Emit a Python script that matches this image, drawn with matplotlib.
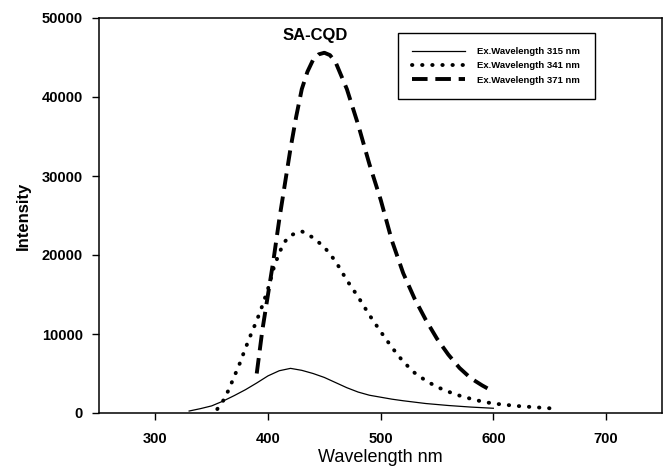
import numpy as np
import matplotlib.pyplot as plt

plt.rcParams['font.family'] = ['Liberation Sans', 'DejaVu Sans']

# Ex. 315 nm
wl_315 = [330, 340, 350, 360, 370, 380, 390, 400, 410, 420, 430, 440, 450, 460,
          470, 480, 490, 500, 510, 520, 540, 560, 580, 600]
int_315 = [250, 550, 900, 1500, 2200, 2950, 3800, 4700, 5350, 5650, 5400, 5000,
           4500, 3850, 3200, 2650, 2250, 2000, 1750, 1550, 1200, 950, 750, 600]

# Ex. 341 nm
wl_341 = [355, 360, 365, 370, 375, 380, 385, 390, 395, 400, 405, 410, 415, 420,
          430, 440, 450, 460, 470, 480, 490, 500, 510, 520, 530, 540, 550, 560,
          570, 580, 590, 600, 620, 640, 650]
int_341 = [500, 1500, 2900, 4600, 6300, 8200, 10000, 11700, 13600, 15700, 18300,
           20300, 21700, 22500, 23000, 22200, 21000, 19200, 16800, 14700, 12400,
           10300, 8300, 6500, 5100, 4100, 3300, 2700, 2200, 1800, 1450, 1200, 900,
           700, 600]

# Ex. 371 nm
wl_371 = [390, 395, 400, 405, 410, 415, 420, 425, 430, 435, 440, 445, 450, 455,
          460, 470, 480, 490, 500, 510, 520, 530, 540, 550, 560, 570, 580, 590,
          600]
int_371 = [5000, 10500, 15000, 19500, 24500, 29000, 33500, 37500, 41000, 43200,
           44700, 45400, 45600, 45300, 44400, 41000, 36500, 31500, 27000, 21800,
           17700, 14500, 11800, 9400, 7400, 5700, 4400, 3500, 2700]

labels = ['Ex.Wavelength 315 nm', 'Ex.Wavelength 341 nm', 'Ex.Wavelength 371 nm']

fig = plt.figure(figsize=(6.63, 4.66), dpi=100)
ax = fig.add_axes([99 / 663, 1 - 413 / 466, 1 - 99 / 663 - 0.001, 395 / 466])

ax.plot(wl_315, int_315, color='black', lw=0.9, label=labels[0])
ax.plot(wl_341, int_341, color='black', lw=2.8, linestyle=(0, (0.1, 2.5)),
        dash_capstyle='round', label=labels[1])
ax.plot(wl_371, int_371, color='black', lw=2.8, linestyle=(0, (4, 2)),
        label=labels[2])

ax.set_xlim(250, 750)
ax.set_ylim(0, 50000)
ax.set_xticks([300, 400, 500, 600, 700])
ax.set_yticks([0, 10000, 20000, 30000, 40000, 50000])
ax.tick_params(direction='out', length=5, width=1, labelsize=10.5)
ax.tick_params(axis='x', pad=9)
ax.tick_params(axis='y', pad=6.5)
for lab in ax.get_xticklabels() + ax.get_yticklabels():
    lab.set_fontweight('bold')
for sp in ax.spines.values():
    sp.set_linewidth(1.1)

ax.set_xlabel('Wavelength nm', fontsize=13, labelpad=2)
ax.set_ylabel('Intensity', fontsize=12, fontweight='bold', labelpad=8)
ax.text(0.383, 0.955, 'SA-CQD', transform=ax.transAxes, ha='center',
        va='center', fontsize=12, fontweight='bold')

leg = ax.legend(loc='upper left', bbox_to_anchor=(0.531, 0.962),
                prop={'weight': 'bold', 'size': 6.8}, fancybox=False,
                edgecolor='black', framealpha=1, handlelength=5.6,
                borderpad=1.5, labelspacing=0.55, handletextpad=1.3,
                borderaxespad=0)
leg.get_frame().set_linewidth(1.0)

fig.savefig('out.png', dpi=100)
